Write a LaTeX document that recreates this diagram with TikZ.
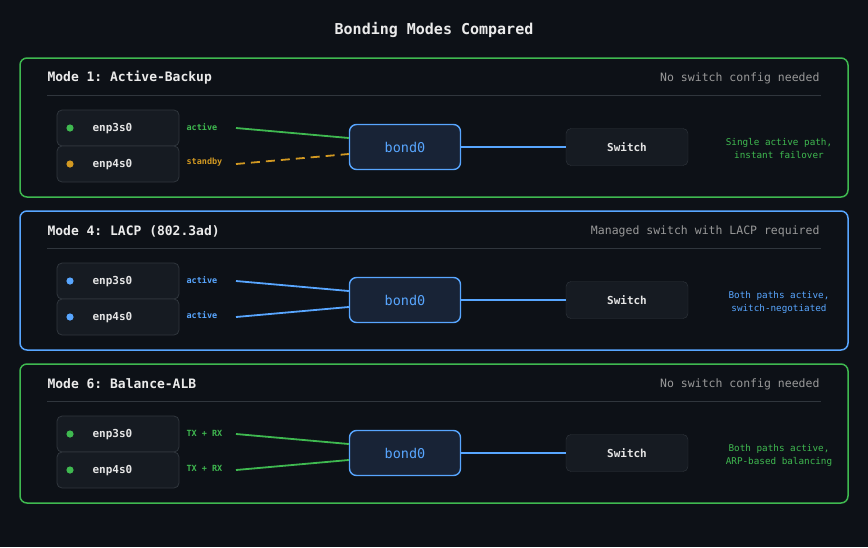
\documentclass[tikz,border=0pt]{standalone}
\usepackage{fontspec}
\setmonofont{DejaVu Sans Mono}
\begin{document}
\begin{tikzpicture}[x=1pt,y=-1pt,font=\ttfamily,
  panel/.style={draw=#1,line width=1.5pt,rounded corners=7pt},
  dashy/.style={dash pattern=on 9pt off 6pt},
  iface/.style={draw=ifb,fill=ifc,rounded corners=5pt,minimum width=122pt,minimum height=36pt,line width=0.8pt},
  bond/.style={draw=bl,fill=bondf,line width=1.4pt,rounded corners=7pt,minimum width=111pt,minimum height=45pt,text=bl,font=\ttfamily\fontsize{13.5}{15}\selectfont},
  sw/.style={draw=ifb,fill=ifc,rounded corners=5pt,minimum width=122pt,minimum height=37pt,text=white!90!black,font=\ttfamily\bfseries\fontsize{11}{13}\selectfont},
  nm/.style={text=white!90!black,font=\ttfamily\bfseries\fontsize{11}{13}\selectfont,anchor=west},
  lab/.style={font=\ttfamily\bfseries\fontsize{8.5}{10}\selectfont,anchor=west,text=#1},
  ttl/.style={text=white!92!black,font=\ttfamily\bfseries\fontsize{13}{15}\selectfont,anchor=west},
  note/.style={text=gray!80!white,font=\ttfamily\fontsize{11.5}{13}\selectfont,anchor=east},
  side/.style={text=#1,font=\ttfamily\fontsize{9.3}{10}\selectfont,align=center}]
\definecolor{bg}{HTML}{0D1117}\definecolor{ifc}{HTML}{161B22}\definecolor{ifb}{HTML}{30363D}
\definecolor{gr}{HTML}{3FB950}\definecolor{bl}{HTML}{58A6FF}\definecolor{yl}{HTML}{D29922}
\definecolor{bondf}{HTML}{182336}
\fill[bg] (0,0) rectangle (868,547);
\node[text=white!92!black,font=\ttfamily\bfseries\fontsize{15}{17}\selectfont] (T) at (434,30) {Bonding Modes Compared};
\foreach \i/\oy/\pc/\tl/\nt/\ca/\cb/\la/\lb/\lca/\lcb/\dash/\sc/\sa/\sb in {
 1/0/gr/{Mode 1: Active-Backup}/{No switch config needed}/gr/yl/active/standby/gr/yl/dashy/gr/{Single active path,}/{instant failover},
 2/153/bl/{Mode 4: LACP (802.3ad)}/{Managed switch with LACP required}/bl/bl/active/active/bl/bl/solid/bl/{Both paths active,}/{switch-negotiated},
 3/306/gr/{Mode 6: Balance-ALB}/{No switch config needed}/gr/gr/{TX + RX}/{TX + RX}/gr/gr/solid/gr/{Both paths active,}/{ARP-based balancing}}{
 \begin{scope}[yshift=-\oy]
 \draw[panel=\pc] (20,58) rectangle (848,197);
 \node[ttl] (t\i) at (44,78) {\tl};
 \node[note] (n\i) at (823,78) {\nt};
 \draw[ifb,line width=0.8pt] (47,95) -- (821,95);
 \node[iface] (a\i) at (118,128) {};
 \node[iface] (b\i) at (118,164) {};
 \fill[\ca] (70,128) circle (3.6);
 \fill[\cb] (70,164) circle (3.6);
 \node[nm] (an\i) at (89,129) {enp3s0};
 \node[nm] (bn\i) at (89,165) {enp4s0};
 \node[lab=\lca] (la\i) at (183,127) {\la};
 \node[lab=\lcb] (lb\i) at (183,162) {\lb};
 \coordinate (pa\i) at (236,128);
 \coordinate (pb\i) at (236,164);
 \node[bond] (bd\i) at (405,147) {bond0};
 \node[sw] (s\i) at (627,147) {Switch};
 \draw[\lca,line width=1.8pt] (pa\i) -- (bd\i.west|-0,138);
 \draw[\lcb,line width=1.8pt,\dash] (pb\i) -- (bd\i.west|-0,154);
 \draw[bl,line width=2.2pt] (bd\i) -- (s\i);
 \node[side=\sc] (r\i) at (779,149) {\sa\\[3pt]\sb};
 \end{scope}}
\end{tikzpicture}
\end{document}
